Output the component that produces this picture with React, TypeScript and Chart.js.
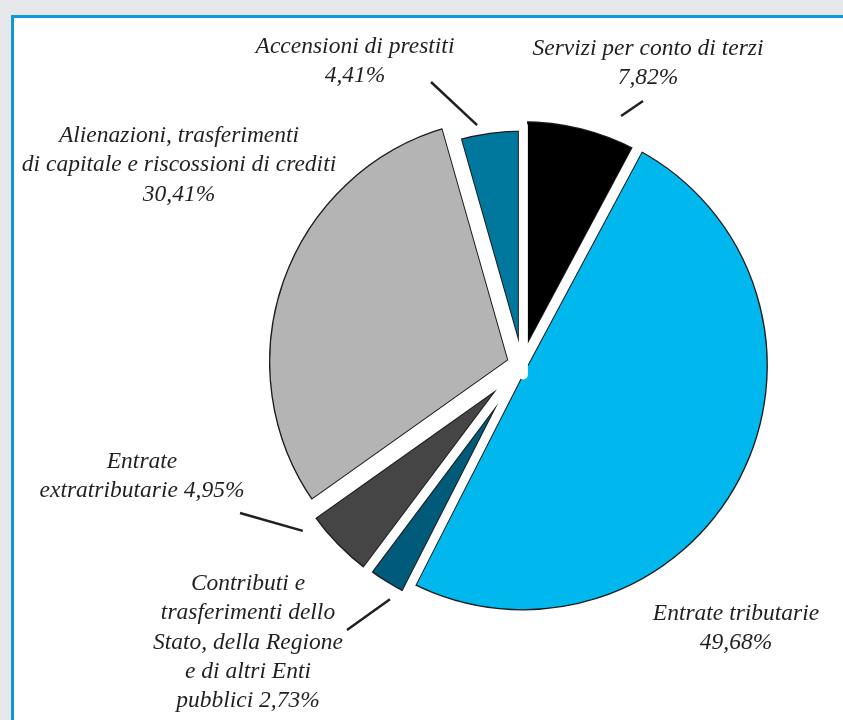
import { useEffect, useRef } from 'react';
import { Chart, registerables, ArcElement } from 'chart.js';

// ---------- data ----------
const categories = [
  'Servizi per conto di terzi',
  'Entrate tributarie',
  'Contributi e trasferimenti dello Stato, della Regione e di altri Enti pubblici',
  'Entrate extratributarie',
  'Alienazioni, trasferimenti di capitale e riscossioni di crediti',
  'Accensioni di prestiti',
];
const shares = [7.82, 49.68, 2.73, 4.95, 30.41, 4.41];
const shareLabels = shares.map((v) => v.toFixed(2).replace('.', ',') + '%');

// ---------- styles ----------
const sliceColors = ['#000000', '#00b7ee', '#005b7a', '#454545', '#b4b4b4', '#00789e'];
const sliceExplode = [0, 1, 10, 12, 9, -10]; // radial shift of each slice, px
const sliceGap = [5, 4, 3, 3.5, 4.5, 4.5]; // white band inside each slice edge, px
const OUTLINE = '#1c1c1c';
const TEXT = '#231f20';
const FONT = 'italic 23.5px "Liberation Serif"';
const LINE_H = 29.3;

// label layout: slice index, text centre x, first baseline y, lines ({v} = value)
const labelLayout = [
  { i: 5, x: 355, y: 53, lines: ['Accensioni di prestiti', '{v}'], leader: { angle: 349.5, gap: 5, to: [431, 82] } },
  { i: 0, x: 648, y: 55, lines: ['Servizi per conto di terzi', '{v}'], leader: { angle: 21.7, gap: 19, to: [643, 101] } },
  { i: 4, x: 179, y: 142, lines: ['Alienazioni, trasferimenti', 'di capitale e riscossioni di crediti', '{v}'] },
  { i: 3, x: 142, y: 468, lines: ['Entrate', 'extratributarie {v}'], leader: { angle: 233.2, gap: 14, to: [240, 513] } },
  { i: 2, x: 248, y: 590, lines: ['Contributi e', 'trasferimenti dello', 'Stato, della Regione', 'e di altri Enti', 'pubblici {v}'], leader: { angle: 209.3, gap: 10, to: [347, 630] } },
  { i: 1, x: 736, y: 620, lines: ['Entrate tributarie', '{v}'] },
];

// Arc element that is shifted radially (no radius growth) and drawn with a white
// gap band around it plus a thin dark outline.
class ExplodedArc extends ArcElement {
  static id = 'explodedArc';
  draw(ctx: CanvasRenderingContext2D) {
    const self: any = this;
    const base = self.options;
    const shift = base.offset || 0;
    const mid = (self.startAngle + self.endAngle) / 2;
    const gap = base.borderWidth || 0;
    ctx.save();
    ctx.translate(Math.cos(mid) * shift, Math.sin(mid) * shift);
    // fill + dark band (gap + 1) inside the slice
    self.options = { ...base, offset: 0, borderAlign: 'inner', borderWidth: gap + 1, borderColor: OUTLINE };
    super.draw(ctx);
    // white band centred on the slice edge, leaves 1px outline
    self.options = {
      ...base,
      offset: 0,
      borderAlign: 'center',
      borderWidth: gap * 2,
      borderJoinStyle: 'round',
      backgroundColor: 'rgba(0,0,0,0)',
    };
    super.draw(ctx);
    self.options = base;
    ctx.restore();
  }
}

Chart.register(...registerables, ExplodedArc);
(Chart.defaults as any).datasets.pie.dataElementType = 'explodedArc';

const labelPlugin = {
  id: 'pieLabels',
  afterDatasetsDraw(chart: any) {
    const ctx = chart.ctx as CanvasRenderingContext2D;
    const meta = chart.getDatasetMeta(0);
    ctx.save();
    ctx.font = FONT;
    ctx.fillStyle = TEXT;
    ctx.strokeStyle = TEXT;
    ctx.textAlign = 'center';
    ctx.textBaseline = 'alphabetic';
    labelLayout.forEach((lab) => {
      lab.lines.forEach((ln, k) => {
        ctx.fillText(ln.replace('{v}', shareLabels[lab.i]), lab.x, lab.y + k * LINE_H);
      });
      if (lab.leader) {
        const el: any = meta.data[lab.i];
        const mid = (el.startAngle + el.endAngle) / 2;
        const t = sliceExplode[lab.i];
        const ax = el.x + Math.cos(mid) * t;
        const ay = el.y + Math.sin(mid) * t;
        const a = ((lab.leader.angle - 90) * Math.PI) / 180;
        const r = el.outerRadius + lab.leader.gap;
        ctx.beginPath();
        ctx.lineWidth = 2.5;
        ctx.moveTo(ax + Math.cos(a) * r, ay + Math.sin(a) * r);
        ctx.lineTo(lab.leader.to[0], lab.leader.to[1]);
        ctx.stroke();
      }
    });
    ctx.restore();
  },
};

export default function App() {
  const ref = useRef<HTMLCanvasElement>(null);
  useEffect(() => {
    if (!ref.current) return;
    const chart = new Chart(ref.current, {
      type: 'pie',
      data: {
        labels: categories,
        datasets: [
          {
            data: shares,
            backgroundColor: sliceColors,
            offset: sliceExplode,
            hoverOffset: 0,
            borderWidth: sliceGap,
            borderColor: '#ffffff',
            borderAlign: 'inner',
            radius: 249,
          } as any,
        ],
      },
      options: {
        responsive: false,
        animation: false,
        events: [],
        layout: { padding: { left: 201, top: 10, right: 0, bottom: 0 } },
        plugins: { legend: { display: false }, tooltip: { enabled: false } },
      } as any,
      plugins: [labelPlugin],
    });
    return () => chart.destroy();
  }, []);
  return (
    <div style={{ position: 'absolute', left: 0, top: 0, width: 843, height: 720, overflow: 'hidden', background: '#e6e7e9' }}>
      <div style={{ position: 'absolute', left: 11, top: 15, width: 900, height: 800, border: '3px solid #0d9ad8', background: '#ffffff' }} />
      <canvas ref={ref} width={843} height={720} style={{ position: 'absolute', left: 0, top: 0, width: 843, height: 720 }} />
    </div>
  );
}
